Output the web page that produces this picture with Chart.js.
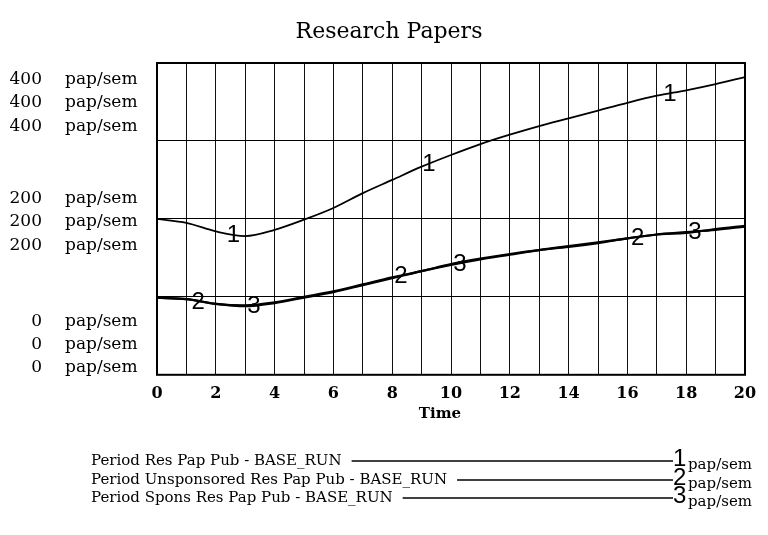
<!DOCTYPE html>
<html><head><meta charset="utf-8">
<script src="https://cdn.jsdelivr.net/npm/chart.js@4"></script>
<style>html,body{margin:0;padding:0;background:#fff}</style>
</head><body>
<canvas id="c" width="768" height="535"></canvas>
<script>
const times = [0,1,2,3,4,5,6,7,8,9,10,11,12,13,14,15,16,17,18,19,20];
const resPapPub   = [200,195,184,178,186,199,214,233,250,267,282,296,308,319,329,339,349,358,365,373,382];
const unsponsored = [99,97,91,89,93,100,107,116,125,133,142,149,155,160,164,169,175,180,183,186,190];
const spons       = [99,97,91,88,92,99,106,115,124,133,141,148,154,160,165,170,175,180,182,187,191];
const yGroupValues = [400,200,0];
const yGroupLabels = ['400','200','0'];
const unitLabel = 'pap/sem';
const chartTitle = 'Research Papers';
const xTitle = 'Time';
const seriesNames = ['Period Res Pap Pub - BASE_RUN','Period Unsponsored Res Pap Pub - BASE_RUN','Period Spons Res Pap Pub - BASE_RUN'];
const seriesMarks = ['1','2','3'];
const markTimes = [[2.6,9.25,17.45],[1.4,8.3,16.35],[3.3,10.3,18.3]];

const serif = '"DejaVu Serif", serif';
const sans = '"Liberation Sans Narrow", "Liberation Sans", Arial, sans-serif';

function interp(arr, t){
  const i = Math.max(0, Math.min(times.length-2, Math.floor(t)));
  const f = t - times[i];
  return arr[i] + (arr[i+1]-arr[i])*f;
}

const decor = {
  id:'decor',
  afterDraw(chart){
    const ctx = chart.ctx, a = chart.chartArea;
    const xs = chart.scales.x, ys = chart.scales.y;
    ctx.save();
    ctx.strokeStyle = '#000'; ctx.lineWidth = 2;
    ctx.strokeRect(a.left, a.top, a.right-a.left, a.bottom-a.top);
    ctx.fillStyle = '#000';
    ctx.font = '22px ' + serif;
    ctx.textAlign = 'center'; ctx.textBaseline = 'middle';
    ctx.fillText(chartTitle, 389, 32);
    ctx.font = 'bold 15px ' + serif;
    ctx.fillText(xTitle, 440, 414);
    ctx.font = '17px ' + serif;
    const offs = [[17,40,64],[-20,3,27],[-53,-30,-7]];
    yGroupValues.forEach((v,gi)=>{
      const py = ys.getPixelForValue(v);
      offs[gi].forEach(o=>{
        ctx.textAlign = 'right';
        ctx.fillText(yGroupLabels[gi], 42, py + o);
        ctx.textAlign = 'left';
        ctx.fillText(unitLabel, 65, py + o);
      });
    });
    ctx.font = '24px ' + sans;
    ctx.textAlign = 'center'; ctx.textBaseline = 'middle';
    const data = [resPapPub, unsponsored, spons];
    data.forEach((arr,si)=>{
      markTimes[si].forEach(t=>{
        const px = xs.getPixelForValue(t), py = ys.getPixelForValue(interp(arr,t));
        ctx.fillText(seriesMarks[si], px, py + 1);
      });
    });
    const rows = [461, 480, 498];
    seriesNames.forEach((n,i)=>{
      ctx.font = '15px ' + serif;
      ctx.textAlign = 'left'; ctx.textBaseline = 'middle';
      ctx.fillText(n, 91, rows[i]);
      const w = ctx.measureText(n).width;
      ctx.strokeStyle = '#000'; ctx.lineWidth = 1.3;
      ctx.beginPath(); ctx.moveTo(91 + w + 10, rows[i]); ctx.lineTo(673, rows[i]); ctx.stroke();
      ctx.font = '24px ' + sans;
      ctx.fillText(seriesMarks[i], 673, rows[i] - 2);
      ctx.font = '15px ' + serif;
      ctx.fillText(unitLabel, 688, rows[i] + 4);
    });
    ctx.restore();
  }
};

new Chart(document.getElementById('c'), {
  type:'line',
  data:{
    labels: times,
    datasets:[
      {label:seriesNames[0], data: times.map((t,i)=>({x:t,y:resPapPub[i]})), borderColor:'#000', borderWidth:1.8, pointRadius:0, cubicInterpolationMode:'monotone'},
      {label:seriesNames[1], data: times.map((t,i)=>({x:t,y:unsponsored[i]})), borderColor:'#000', borderWidth:2.2, pointRadius:0, cubicInterpolationMode:'monotone'},
      {label:seriesNames[2], data: times.map((t,i)=>({x:t,y:spons[i]})), borderColor:'#000', borderWidth:2.2, pointRadius:0, cubicInterpolationMode:'monotone'}
    ]
  },
  options:{
    responsive:false, animation:false, devicePixelRatio:1,
    layout:{padding:{left:157, right:23, top:63, bottom:123}},
    plugins:{legend:{display:false}, tooltip:{enabled:false}, title:{display:false}},
    scales:{
      x:{type:'linear', min:0, max:20,
        ticks:{stepSize:1, autoSkip:false, maxRotation:0, padding:9, color:'#000',
          font:{family:serif, size:16, weight:'bold'},
          callback:v=> (v % 2 === 0 ? String(v) : '')},
        grid:{color:'#111', lineWidth:1, drawTicks:false},
        border:{display:false}},
      y:{type:'linear', min:0, max:400,
        ticks:{stepSize:100, display:false},
        grid:{color:'#000', lineWidth:1, drawTicks:false},
        border:{display:false}}
    }
  },
  plugins:[decor]
});
</script>
</body></html>
